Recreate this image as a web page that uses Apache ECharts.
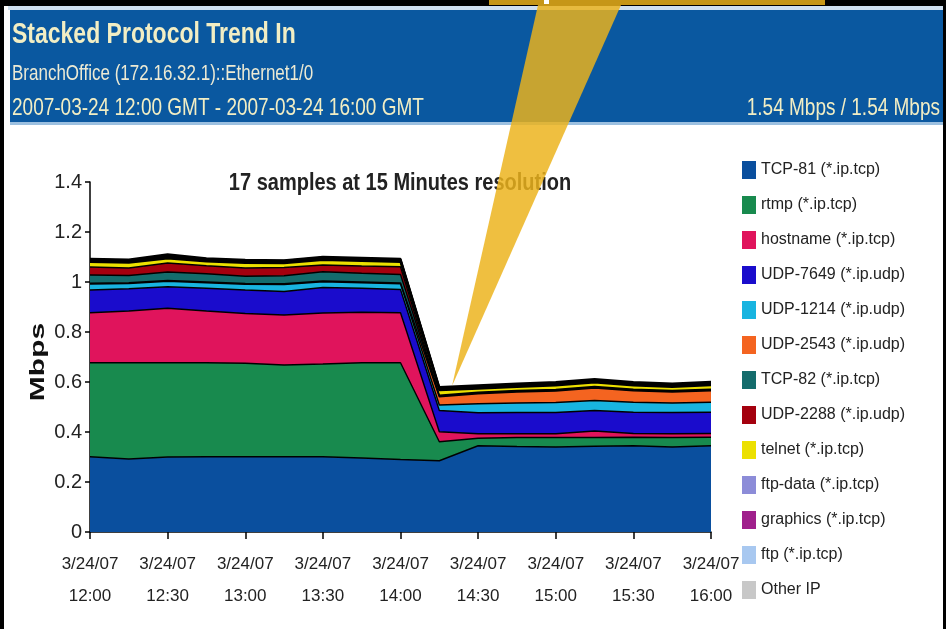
<!DOCTYPE html>
<html>
<head>
<meta charset="utf-8">
<script src="https://cdn.jsdelivr.net/npm/echarts@6/dist/echarts.min.js"></script>
<style>
html,body{margin:0;padding:0;background:#fff;}
#c{width:946px;height:629px;}
</style>
</head>
<body>
<div id="c"></div>
<script>
// ---- data ----
const times = ['3/24/07\n12:00','3/24/07\n12:15','3/24/07\n12:30','3/24/07\n12:45','3/24/07\n13:00','3/24/07\n13:15','3/24/07\n13:30','3/24/07\n13:45','3/24/07\n14:00','3/24/07\n14:15','3/24/07\n14:30','3/24/07\n14:45','3/24/07\n15:00','3/24/07\n15:15','3/24/07\n15:30','3/24/07\n15:45','3/24/07\n16:00'];
const yTicks = [0, 0.2, 0.4, 0.6, 0.8, 1, 1.2, 1.4];
const seriesNames = ['TCP-81 (*.ip.tcp)','rtmp (*.ip.tcp)','hostname (*.ip.tcp)','UDP-7649 (*.ip.udp)','UDP-1214 (*.ip.udp)','UDP-2543 (*.ip.udp)','TCP-82 (*.ip.tcp)','UDP-2288 (*.ip.udp)','telnet (*.ip.tcp)','ftp-data (*.ip.tcp)','graphics (*.ip.tcp)','ftp (*.ip.tcp)','Other IP'];
const tcp81    = [0.301,0.292,0.300,0.301,0.301,0.301,0.301,0.296,0.290,0.285,0.345,0.342,0.340,0.343,0.345,0.340,0.345];
const rtmp     = [0.376,0.385,0.377,0.376,0.374,0.367,0.371,0.381,0.387,0.076,0.030,0.036,0.038,0.035,0.034,0.038,0.034];
const hostname = [0.200,0.207,0.218,0.207,0.199,0.200,0.204,0.202,0.200,0.040,0.018,0.015,0.015,0.026,0.015,0.015,0.015];
const udp7649  = [0.091,0.089,0.086,0.091,0.094,0.094,0.102,0.096,0.093,0.085,0.084,0.085,0.085,0.082,0.085,0.085,0.085];
const udp1214  = [0.024,0.021,0.022,0.022,0.023,0.028,0.023,0.022,0.023,0.022,0.036,0.038,0.040,0.040,0.040,0.038,0.040];
const udp2543  = [0.003,0.003,0.003,0.003,0.003,0.003,0.003,0.003,0.003,0.033,0.040,0.044,0.046,0.050,0.046,0.044,0.046];
const tcp82    = [0.033,0.029,0.034,0.033,0.029,0.032,0.037,0.035,0.034,0.003,0.003,0.003,0.003,0.003,0.003,0.003,0.003];
const udp2288  = [0.032,0.030,0.036,0.032,0.033,0.033,0.027,0.029,0.031,0.003,0.003,0.003,0.003,0.003,0.003,0.003,0.003];
const telnet   = [0.020,0.021,0.018,0.017,0.020,0.017,0.020,0.020,0.019,0.020,0.014,0.014,0.016,0.016,0.015,0.014,0.016];
const ftpData  = [0.004,0.004,0.005,0.004,0.004,0.004,0.004,0.004,0.004,0.004,0.004,0.004,0.004,0.004,0.004,0.004,0.004];
const graphics = [0.003,0.003,0.004,0.003,0.003,0.003,0.003,0.003,0.003,0.003,0.003,0.003,0.003,0.003,0.003,0.003,0.003];
const ftp      = [0.003,0.003,0.004,0.003,0.003,0.003,0.003,0.003,0.003,0.003,0.003,0.003,0.003,0.003,0.003,0.003,0.003];
const otherIP  = [0.003,0.003,0.004,0.003,0.003,0.002,0.003,0.003,0.003,0.003,0.004,0.004,0.004,0.004,0.004,0.004,0.004];
const seriesData = [tcp81, rtmp, hostname, udp7649, udp1214, udp2543, tcp82, udp2288, telnet, ftpData, graphics, ftp, otherIP];
const colors = ['#0a4f9e','#188a4e','#e0145c','#1a0ccc','#18b4e0','#f46420','#146c6c','#a4000e','#ece000','#8c8cd8','#a0208c','#a8c8f0','#c8c8c8'];

const FONT = '"Liberation Sans", Arial, sans-serif';

const chart = echarts.init(document.getElementById('c'), null, {renderer: 'canvas'});

const series = seriesNames.map((n, i) => ({
  name: n,
  type: 'line',
  stack: 'total',
  data: seriesData[i],
  symbol: 'none',
  smooth: false,
  color: colors[i],
  lineStyle: {color: '#000', width: i >= 8 ? 2 : 1.4},
  areaStyle: {color: colors[i], opacity: 1},
  emphasis: {disabled: true},
  silent: true
}));

chart.setOption({
  animation: false,
  backgroundColor: '#ffffff',
  grid: {left: 90, right: 235, top: 182, bottom: 97, containLabel: false},
  xAxis: {
    type: 'category',
    data: times,
    boundaryGap: false,
    axisLine: {lineStyle: {color: '#000', width: 1.5}},
    axisTick: {interval: 1, length: 7, lineStyle: {color: '#000', width: 1.5}},
    axisLabel: {interval: 1, color: '#222', fontFamily: FONT, fontSize: 17, lineHeight: 32, margin: 16},
    splitLine: {show: false}
  },
  yAxis: {
    type: 'value',
    min: yTicks[0],
    max: yTicks[yTicks.length - 1],
    interval: 0.2,
    axisLine: {show: true, lineStyle: {color: '#000', width: 1.5}},
    axisTick: {show: true, length: 5, lineStyle: {color: '#000', width: 1.5}},
    axisLabel: {color: '#222', fontFamily: FONT, fontSize: 20, margin: 8},
    splitLine: {show: false}
  },
  legend: {
    orient: 'vertical',
    left: 737,
    top: 156,
    icon: 'rect',
    itemWidth: 14,
    itemHeight: 18,
    itemGap: 17,
    selectedMode: false,
    textStyle: {color: '#222', fontFamily: FONT, fontSize: 16},
    data: seriesNames
  },
  series: series,
  graphic: [
    // black frame
    {type: 'rect', shape: {x: 0, y: 0, width: 946, height: 6}, style: {fill: '#000'}, z: 50, silent: true},
    {type: 'rect', shape: {x: 0, y: 0, width: 4, height: 629}, style: {fill: '#000'}, z: 50, silent: true},
    {type: 'rect', shape: {x: 943, y: 0, width: 3, height: 629}, style: {fill: '#000'}, z: 50, silent: true},
    // header band
    {type: 'rect', shape: {x: 8, y: 6, width: 935, height: 4}, style: {fill: '#cfe0f0'}, z: 1, silent: true},
    {type: 'rect', shape: {x: 10, y: 10, width: 933, height: 112}, style: {fill: '#0a58a0'}, z: 1, silent: true},
    {type: 'rect', shape: {x: 10, y: 122, width: 933, height: 3}, style: {fill: '#9cc0e0'}, z: 1, silent: true},
    {type: 'text', x: 12, y: 35, scaleY: 1.25, z: 2, silent: true,
      style: {text: 'Stacked Protocol Trend In', fill: '#f2eec4', font: 'bold 23px ' + FONT, textAlign: 'left', textVerticalAlign: 'middle'}},
    {type: 'text', x: 12, y: 74, scaleY: 1.25, z: 2, silent: true,
      style: {text: 'BranchOffice (172.16.32.1)::Ethernet1/0', fill: '#ecead4', font: '17px ' + FONT, textAlign: 'left', textVerticalAlign: 'middle'}},
    {type: 'text', x: 12, y: 108, scaleY: 1.25, z: 2, silent: true,
      style: {text: '2007-03-24 12:00 GMT - 2007-03-24 16:00 GMT', fill: '#f2eec4', font: '19px ' + FONT, textAlign: 'left', textVerticalAlign: 'middle'}},
    {type: 'text', x: 940, y: 108, scaleY: 1.25, z: 2, silent: true,
      style: {text: '1.54 Mbps / 1.54 Mbps', fill: '#f2eec4', font: '19px ' + FONT, textAlign: 'right', textVerticalAlign: 'middle'}},
    // chart subtitle
    {type: 'text', x: 400, y: 183, scaleY: 1.2, z: 2, silent: true,
      style: {text: '17 samples at 15 Minutes resolution', fill: '#222', font: 'bold 20px ' + FONT, textAlign: 'center', textVerticalAlign: 'middle'}},
    // y axis name
    {type: 'text', x: 38, y: 362, rotation: Math.PI / 2, scaleX: 1.5, z: 2, silent: true,
      style: {text: 'Mbps', fill: '#111', font: 'bold 20px ' + FONT, textAlign: 'center', textVerticalAlign: 'middle'}},
    // yellow callout
    {type: 'rect', shape: {x: 489, y: 0, width: 336, height: 5}, style: {fill: 'rgba(236,179,27,0.84)'}, z: 60, silent: true},
    {type: 'rect', shape: {x: 544, y: 0, width: 5, height: 4}, style: {fill: '#fff'}, z: 61, silent: true},
    {type: 'polygon', shape: {points: [[538, 5], [621, 5], [452, 386]]}, style: {fill: 'rgba(236,179,27,0.84)'}, z: 60, silent: true}
  ]
});
</script>
</body>
</html>
